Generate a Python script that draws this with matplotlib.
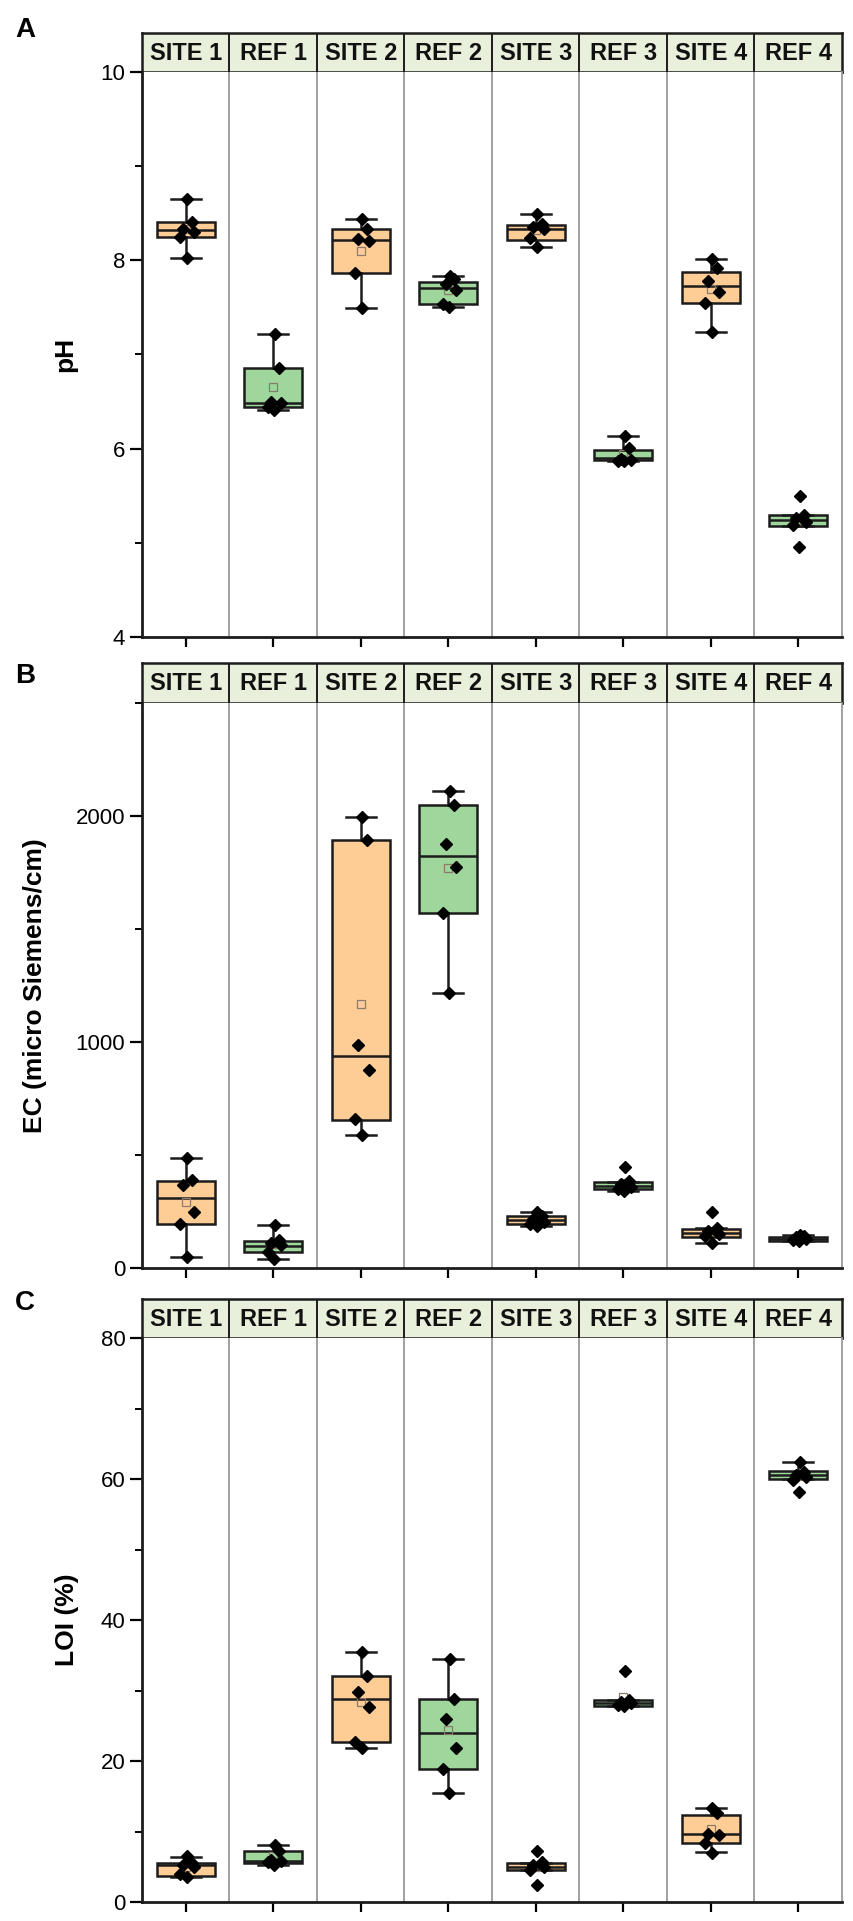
import matplotlib
matplotlib.use("Agg")
import matplotlib.pyplot as plt
from matplotlib.ticker import MultipleLocator

plt.rcParams['font.family'] = ['Liberation Sans', 'DejaVu Sans']

# groups along the x axis
categories = ["SITE 1", "REF 1", "SITE 2", "REF 2", "SITE 3", "REF 3", "SITE 4", "REF 4"]

# pH (panel A)
ph_points = [[8.65, 8.41, 8.33, 8.30, 8.25, 8.02],
             [7.22, 6.86, 6.50, 6.48, 6.44, 6.41],
             [8.44, 8.33, 8.23, 8.21, 7.87, 7.49],
             [7.83, 7.80, 7.75, 7.69, 7.54, 7.50],
             [8.49, 8.39, 8.35, 8.33, 8.24, 8.14],
             [6.13, 6.01, 5.89, 5.88, 5.87, 5.87],
             [8.01, 7.92, 7.78, 7.66, 7.55, 7.24],
             [5.50, 5.30, 5.26, 5.22, 5.19, 4.96]]
ph_q1 = [8.245, 6.44, 7.87, 7.54, 8.22, 5.88, 7.55, 5.18]
ph_med = [8.32, 6.49, 8.22, 7.71, 8.33, 5.90, 7.73, 5.24]
ph_q3 = [8.41, 6.86, 8.33, 7.77, 8.37, 5.99, 7.88, 5.30]
ph_wlo = [8.02, 6.41, 7.49, 7.50, 8.14, 5.87, 7.24, 5.18]
ph_whi = [8.65, 7.22, 8.44, 7.83, 8.49, 6.13, 8.01, 5.30]
ph_mean = [8.33, 6.65, 8.10, 7.68, 8.32, 5.94, 7.70, 5.24]

# EC (panel B)
ec_points = [[487, 390, 369, 247, 194, 50],
             [191, 125, 110, 100, 72, 39],
             [1994, 1895, 988, 877, 660, 587],
             [2110, 2047, 1876, 1773, 1572, 1216],
             [250, 230, 215, 205, 195, 185],
             [448, 385, 370, 360, 350, 340],
             [247, 175, 165, 150, 140, 112],
             [148, 140, 135, 130, 125, 118]]
ec_q1 = [194, 72, 655, 1572, 194, 351, 139, 121]
ec_med = [310, 98, 936, 1825, 213, 364, 157, 130]
ec_q3 = [384, 121, 1895, 2047, 231, 381, 172, 139]
ec_wlo = [50, 39, 587, 1216, 187, 339, 112, 118]
ec_whi = [487, 191, 1994, 2110, 250, 381, 175, 145]
ec_mean = [290, 106, 1169, 1769, 213, 376, 165, 133]

# LOI (panel C)
loi_points = [[6.5, 5.6, 5.25, 4.9, 3.93, 3.6],
              [8.1, 7.3, 6.0, 5.8, 5.7, 5.3],
              [35.5, 32.0, 29.8, 27.6, 22.7, 21.9],
              [34.4, 28.8, 26.0, 21.9, 18.8, 15.5],
              [7.3, 5.7, 5.3, 5.0, 4.6, 2.4],
              [32.7, 28.7, 28.4, 28.2, 28.0, 27.8],
              [13.3, 12.6, 9.65, 9.5, 8.4, 7.0],
              [62.4, 61.0, 60.6, 60.3, 59.9, 58.1]]
loi_q1 = [3.69, 5.49, 22.7, 18.8, 4.54, 27.85, 8.41, 59.96]
loi_med = [5.3, 5.82, 28.8, 24.0, 5.0, 28.27, 9.65, 60.5]
loi_q3 = [5.49, 7.28, 32.0, 28.75, 5.58, 28.65, 12.34, 61.1]
loi_wlo = [3.5, 5.25, 21.9, 15.5, 4.54, 27.85, 7.05, 59.96]
loi_whi = [6.43, 8.09, 35.5, 34.4, 5.58, 28.65, 13.3, 62.35]
loi_mean = [5.0, 6.52, 28.3, 24.4, 5.0, 29.1, 10.35, 60.4]

ORANGE = '#FECD95'
GREEN = '#9ED69B'
HEADER = '#E8EFDA'
EDGE = '#1c1c1c'
JITTER = [0.02, 0.07, -0.03, 0.09, -0.06, 0.01]

W, H = 854, 1921
fig = plt.figure(figsize=(W / 100, H / 100), dpi=100)

def frac(left, top, right, bottom):
    return [left / W, 1 - bottom / H, (right - left) / W, (bottom - top) / H]


def draw_header(rect):
    hx = fig.add_axes(rect)
    hx.set_xlim(0.5, len(categories) + 0.5)
    hx.set_ylim(0, 1)
    hx.set_facecolor(HEADER)
    for i, name in enumerate(categories):
        hx.text(i + 1, 0.48, name, ha='center', va='center', fontsize=17, fontweight='bold', color='#111111')
        if i > 0:
            hx.axvline(i + 0.5, color=EDGE, lw=1.4)
    for s in hx.spines.values():
        s.set_linewidth(1.8)
        s.set_color(EDGE)
    hx.set_xticks([])
    hx.set_yticks([])


def draw_panel(rect, points, q1, med, q3, wlo, whi, means, ylim, major, minor, ylabel, label_x, letter, letter_y):
    ax = fig.add_axes(rect)
    stats = []
    for i in range(len(categories)):
        stats.append(dict(med=med[i], q1=q1[i], q3=q3[i], whislo=wlo[i], whishi=whi[i],
                          mean=means[i], fliers=[]))
    pos = list(range(1, len(categories) + 1))
    bp = ax.bxp(stats, positions=pos, widths=0.66, patch_artist=True, showmeans=True,
                showfliers=False, capwidths=0.34,
                boxprops=dict(edgecolor=EDGE, linewidth=1.8),
                whiskerprops=dict(color=EDGE, linewidth=1.8),
                capprops=dict(color=EDGE, linewidth=1.8),
                medianprops=dict(color=EDGE, linewidth=1.8),
                meanprops=dict(marker='s', markerfacecolor='none', markeredgecolor='#8c7b6b',
                               markersize=6, markeredgewidth=0.9))
    for i, patch in enumerate(bp['boxes']):
        patch.set_facecolor(ORANGE if i % 2 == 0 else GREEN)
    for i, vals in enumerate(points):
        xs = [pos[i] + JITTER[k % len(JITTER)] for k in range(len(vals))]
        ax.plot(xs, vals, linestyle='none', marker='D', markersize=6, color='black', zorder=4)

    for x in range(1, len(categories)):
        ax.axvline(x + 0.5, color='#9a9a9a', lw=1.3, zorder=0)

    ax.set_xlim(0.5, len(categories) + 0.5)
    ax.set_ylim(*ylim)
    ax.set_xticks(pos)
    ax.set_xticklabels([])
    ax.yaxis.set_major_locator(MultipleLocator(major))
    ax.yaxis.set_minor_locator(MultipleLocator(minor))
    ax.tick_params(axis='y', which='major', direction='out', length=9, width=1.6, labelsize=16, pad=3)
    ax.tick_params(axis='y', which='minor', direction='out', length=5, width=1.4)
    ax.tick_params(axis='x', which='major', direction='out', length=7, width=1.6)
    ax.spines['left'].set_linewidth(2)
    ax.spines['bottom'].set_linewidth(2)
    ax.spines['left'].set_color(EDGE)
    ax.spines['bottom'].set_color(EDGE)
    ax.spines['top'].set_visible(False)
    ax.spines['right'].set_color('#9a9a9a')
    ax.spines['right'].set_linewidth(1.3)
    ax.set_ylabel(ylabel, fontsize=19, fontweight='bold')
    ax.yaxis.set_label_coords(label_x, 0.5)
    fig.text(25 / W, 1 - letter_y / H, letter, fontsize=20, fontweight='bold', ha='center', va='center')
    return ax


# panel A
draw_header(frac(142, 33, 842, 72))
draw_panel(frac(142, 72, 842, 637), ph_points, ph_q1, ph_med, ph_q3, ph_wlo, ph_whi, ph_mean,
           (4, 10), 2, 1, 'pH', -0.093, 'A', 30)

# panel B
draw_header(frac(142, 663, 842, 703))
draw_panel(frac(142, 703, 842, 1268), ec_points, ec_q1, ec_med, ec_q3, ec_wlo, ec_whi, ec_mean,
           (0, 2500), 1000, 500, 'EC (micro Siemens/cm)', -0.136, 'B', 676)

# panel C
draw_header(frac(142, 1299, 842, 1338))
draw_panel(frac(142, 1338, 842, 1902), loi_points, loi_q1, loi_med, loi_q3, loi_wlo, loi_whi, loi_mean,
           (0, 80), 20, 10, 'LOI (%)', -0.09, 'C', 1303)

fig.savefig('out.png', dpi=100)
